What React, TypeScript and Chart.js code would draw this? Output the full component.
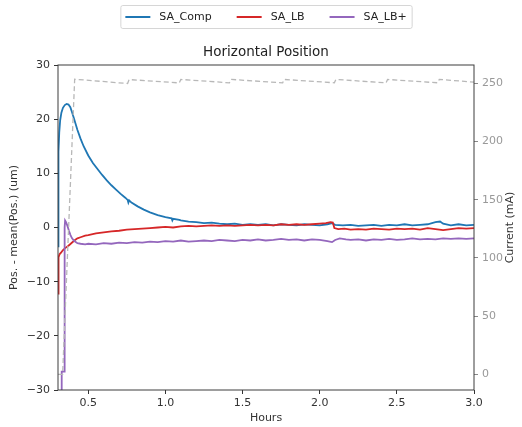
import React, { useEffect, useRef } from 'react';
import { Chart, registerables } from 'chart.js';

Chart.register(...registerables);

const titleText = 'Horizontal Position';
const xLabel = 'Hours';
const yLabel = 'Pos. - mean(Pos.) (um)';
const y2Label = 'Current (mA)';
const seriesNames = ['SA_Comp', 'SA_LB', 'SA_LB+'];
const seriesColors = ['#1f77b4', '#d62728', '#9467bd'];
const currentColor = '#b8b8b8';

const xTicks = [0.5, 1.0, 1.5, 2.0, 2.5, 3.0];
const yTicks = [-30, -20, -10, 0, 10, 20, 30];
const y2Ticks = [0, 50, 100, 150, 200, 250];

const compHours = [0.304, 0.306, 0.308, 0.312, 0.318, 0.326, 0.336, 0.348, 0.36, 0.372, 0.384, 0.396, 0.41, 0.43, 0.45, 0.47, 0.5, 0.53, 0.56, 0.59, 0.62, 0.65, 0.68, 0.71, 0.74, 0.755, 0.76, 0.765, 0.78, 0.82, 0.86, 0.9, 0.95, 1.0, 1.04, 1.045, 1.05, 1.09, 1.1, 1.15, 1.2, 1.25, 1.3, 1.35, 1.4, 1.45, 1.5, 1.55, 1.6, 1.65, 1.7, 1.75, 1.8, 1.85, 1.9, 1.95, 2.0, 2.05, 2.08, 2.1, 2.15, 2.2, 2.25, 2.3, 2.35, 2.4, 2.45, 2.5, 2.55, 2.6, 2.65, 2.7, 2.75, 2.78, 2.8, 2.85, 2.9, 2.95, 3.0];
const compPos = [-3.5, 8, 14, 17.5, 19.8, 21.2, 22.1, 22.6, 22.8, 22.7, 22.2, 21.2, 19.9, 18.0, 16.4, 15.0, 13.3, 11.9, 10.8, 9.7, 8.7, 7.8, 7.0, 6.2, 5.5, 5.1, 4.6, 5.0, 4.6, 3.9, 3.3, 2.8, 2.3, 1.9, 1.7, 1.3, 1.6, 1.4, 1.3, 1.1, 1.0, 0.8, 0.9, 0.7, 0.6, 0.7, 0.5, 0.6, 0.5, 0.6, 0.4, 0.6, 0.5, 0.4, 0.6, 0.5, 0.4, 0.6, 0.8, 0.5, 0.4, 0.5, 0.3, 0.4, 0.5, 0.3, 0.5, 0.4, 0.6, 0.4, 0.5, 0.6, 1.0, 1.1, 0.7, 0.4, 0.6, 0.4, 0.5];

const lbHours = [0.304, 0.306, 0.309, 0.315, 0.325, 0.335, 0.35, 0.37, 0.39, 0.41, 0.43, 0.45, 0.48, 0.5, 0.55, 0.6, 0.65, 0.7, 0.75, 0.8, 0.85, 0.9, 0.95, 1.0, 1.05, 1.1, 1.15, 1.2, 1.25, 1.3, 1.35, 1.4, 1.45, 1.5, 1.55, 1.6, 1.65, 1.7, 1.75, 1.8, 1.85, 1.9, 1.95, 2.0, 2.04, 2.07, 2.085, 2.095, 2.12, 2.16, 2.2, 2.25, 2.3, 2.35, 2.4, 2.45, 2.5, 2.55, 2.6, 2.65, 2.7, 2.75, 2.8, 2.85, 2.9, 2.95, 3.0];
const lbPos = [-12.2, -8, -5.5, -4.9, -4.6, -4.2, -3.8, -3.4, -2.9, -2.4, -2.0, -1.8, -1.5, -1.4, -1.1, -0.9, -0.7, -0.6, -0.4, -0.3, -0.2, -0.1, 0.0, 0.1, 0.0, 0.2, 0.3, 0.2, 0.3, 0.4, 0.3, 0.4, 0.3, 0.4, 0.5, 0.4, 0.5, 0.4, 0.6, 0.5, 0.6, 0.5, 0.6, 0.7, 0.8, 1.0, 0.9, -0.1, -0.3, -0.2, -0.4, -0.3, -0.4, -0.2, -0.3, -0.4, -0.2, -0.3, -0.2, -0.4, -0.1, -0.3, -0.5, -0.3, -0.1, -0.2, -0.1];

const lbPlusHours = [0.318, 0.327, 0.328, 0.345, 0.347, 0.35, 0.356, 0.365, 0.375, 0.385, 0.395, 0.41, 0.43, 0.45, 0.48, 0.5, 0.55, 0.6, 0.65, 0.7, 0.75, 0.8, 0.85, 0.9, 0.95, 1.0, 1.05, 1.1, 1.15, 1.2, 1.25, 1.3, 1.35, 1.4, 1.45, 1.5, 1.55, 1.6, 1.65, 1.7, 1.75, 1.8, 1.85, 1.9, 1.95, 2.0, 2.05, 2.08, 2.1, 2.13, 2.17, 2.2, 2.25, 2.3, 2.35, 2.4, 2.45, 2.5, 2.55, 2.6, 2.65, 2.7, 2.75, 2.8, 2.85, 2.9, 2.95, 3.0];
const lbPlusPos = [-33, -33, -26.6, -26.6, 0.0, 1.3, 1.0, 0.3, -0.6, -1.4, -2.0, -2.5, -2.9, -3.0, -3.1, -3.0, -3.1, -2.9, -3.0, -2.8, -2.9, -2.7, -2.8, -2.6, -2.7, -2.5, -2.6, -2.4, -2.6, -2.5, -2.4, -2.5, -2.3, -2.4, -2.5, -2.3, -2.4, -2.2, -2.4, -2.3, -2.1, -2.3, -2.2, -2.4, -2.2, -2.3, -2.5, -2.7, -2.3, -2.0, -2.2, -2.3, -2.2, -2.4, -2.2, -2.3, -2.1, -2.3, -2.2, -2.0, -2.2, -2.1, -2.2, -2.0, -2.1, -2.0, -2.1, -2.0];

const currentHours = [0.304, 0.334, 0.412, 0.755, 0.765, 1.09, 1.1, 1.415, 1.425, 1.76, 1.77, 2.095, 2.105, 2.43, 2.44, 2.765, 2.775, 3.0];
const currentMA = [0, 0, 253.5, 249.8, 253.2, 250.3, 253.3, 250.4, 253.3, 250.4, 253.3, 250.4, 253.3, 250.4, 253.3, 250.4, 253.3, 251.0];

const FONT = '"DejaVu Sans", sans-serif';

function pts(xs: number[], ys: number[]) {
  return xs.map((x, i) => ({ x, y: ys[i] }));
}

const decorPlugin = {
  id: 'decor',
  afterDraw(chart: any) {
    const { ctx, chartArea: a } = chart;
    ctx.save();
    // frame
    ctx.strokeStyle = '#3c3c3c';
    ctx.lineWidth = 1;
    ctx.strokeRect(a.left, a.top, a.right - a.left, a.bottom - a.top);
    // title
    const cx = (a.left + a.right) / 2;
    const cy = (a.top + a.bottom) / 2;
    ctx.fillStyle = '#222';
    ctx.font = `13.5px ${FONT}`;
    ctx.textAlign = 'center';
    ctx.textBaseline = 'middle';
    ctx.fillText(titleText, cx, 52);
    // right axis title, reading bottom-to-top
    ctx.save();
    ctx.font = `11px ${FONT}`;
    ctx.fillStyle = '#333';
    ctx.translate(510, cy);
    ctx.rotate(-Math.PI / 2);
    ctx.fillText(y2Label, 0, 0);
    ctx.restore();
    // legend
    ctx.font = `11px ${FONT}`;
    const lineLen = 25;
    const gapText = 9;
    const gapItem = 25;
    const widths = seriesNames.map((n) => ctx.measureText(n).width);
    let total = 0;
    widths.forEach((w, i) => {
      total += lineLen + gapText + w + (i < widths.length - 1 ? gapItem : 0);
    });
    const padX = 5;
    const boxLeft = cx - total / 2 - padX;
    const boxW = total + padX * 2;
    const boxTop = 5;
    const boxH = 23;
    ctx.strokeStyle = '#d6d6d6';
    ctx.lineWidth = 1;
    ctx.beginPath();
    if ((ctx as any).roundRect) {
      (ctx as any).roundRect(boxLeft + 0.5, boxTop + 0.5, boxW, boxH, 2);
    } else {
      ctx.rect(boxLeft + 0.5, boxTop + 0.5, boxW, boxH);
    }
    ctx.stroke();
    let x = cx - total / 2;
    const ly = boxTop + boxH / 2 + 0.5;
    seriesNames.forEach((n, i) => {
      ctx.strokeStyle = seriesColors[i];
      ctx.lineWidth = 2;
      ctx.beginPath();
      ctx.moveTo(x, ly);
      ctx.lineTo(x + lineLen, ly);
      ctx.stroke();
      ctx.fillStyle = '#222';
      ctx.textAlign = 'left';
      ctx.fillText(n, x + lineLen + gapText, ly + 0.5);
      x += lineLen + gapText + widths[i] + gapItem;
    });
    ctx.restore();
  },
};

export default function App() {
  const ref = useRef<HTMLCanvasElement | null>(null);

  useEffect(() => {
    document.body.style.margin = '0';
    document.body.style.background = '#ffffff';
    if (!ref.current) return;
    const tickFont = { family: FONT, size: 11 };
    const chart = new Chart(ref.current, {
      type: 'line',
      data: {
        datasets: [
          {
            label: 'Current',
            data: pts(currentHours, currentMA),
            borderColor: currentColor,
            borderWidth: 1.3,
            borderDash: [5, 3],
            pointRadius: 0,
            yAxisID: 'y2',
            xAxisID: 'x',
          },
          {
            label: seriesNames[2],
            data: pts(lbPlusHours, lbPlusPos),
            borderColor: seriesColors[2],
            borderWidth: 1.8,
            pointRadius: 0,
            yAxisID: 'y',
            xAxisID: 'x',
          },
          {
            label: seriesNames[1],
            data: pts(lbHours, lbPos),
            borderColor: seriesColors[1],
            borderWidth: 1.8,
            pointRadius: 0,
            yAxisID: 'y',
            xAxisID: 'x',
          },
          {
            label: seriesNames[0],
            data: pts(compHours, compPos),
            borderColor: seriesColors[0],
            borderWidth: 1.8,
            pointRadius: 0,
            yAxisID: 'y',
            xAxisID: 'x',
          },
        ],
      },
      options: {
        responsive: false,
        animation: false,
        devicePixelRatio: 1,
        layout: { padding: { top: 65, left: 0, right: 0, bottom: 0 } },
        plugins: {
          legend: { display: false },
          title: { display: false },
          tooltip: { enabled: false },
        },
        elements: { line: { tension: 0 } },
        scales: {
          x: {
            type: 'linear',
            min: 0.304,
            max: 3.0,
            afterBuildTicks: (s: any) => {
              s.ticks = xTicks.map((v) => ({ value: v }));
            },
            afterFit: (s: any) => {
              s.height = 37;
            },
            ticks: {
              autoSkip: false,
              maxRotation: 0,
              padding: 3,
              color: '#333',
              font: tickFont,
              callback: (v: any) => Number(v).toFixed(1),
            },
            grid: { drawOnChartArea: false, drawTicks: true, tickLength: 4, tickColor: '#333' },
            border: { display: false },
            title: {
              display: true,
              text: xLabel,
              color: '#333',
              font: tickFont,
              padding: { top: 0, bottom: 2 },
            },
          },
          y: {
            type: 'linear',
            position: 'left',
            min: -30,
            max: 30,
            afterBuildTicks: (s: any) => {
              s.ticks = yTicks.map((v) => ({ value: v }));
            },
            afterFit: (s: any) => {
              s.width = 58;
            },
            ticks: {
              autoSkip: false,
              padding: 4,
              color: '#333',
              font: tickFont,
              callback: (v: any) => String(v).replace('-', '\u2212'),
            },
            grid: { drawOnChartArea: false, drawTicks: true, tickLength: 4, tickColor: '#333' },
            border: { display: false },
            title: {
              display: true,
              text: yLabel,
              color: '#333',
              font: tickFont,
              padding: { top: 8, bottom: 0 },
            },
          },
          y2: {
            type: 'linear',
            position: 'right',
            min: -13.5,
            max: 265.7,
            afterBuildTicks: (s: any) => {
              s.ticks = y2Ticks.map((v) => ({ value: v }));
            },
            afterFit: (s: any) => {
              s.width = 48;
            },
            ticks: {
              autoSkip: false,
              padding: 4,
              color: '#999',
              font: tickFont,
            },
            grid: { drawOnChartArea: false, drawTicks: true, tickLength: 4, tickColor: '#888' },
            border: { display: false },
            title: { display: false },
          },
        },
      },
      plugins: [decorPlugin],
    } as any);
    return () => chart.destroy();
  }, []);

  return (
    <div style={{ width: 522, height: 427 }}>
      <canvas ref={ref} width={522} height={427} />
    </div>
  );
}
